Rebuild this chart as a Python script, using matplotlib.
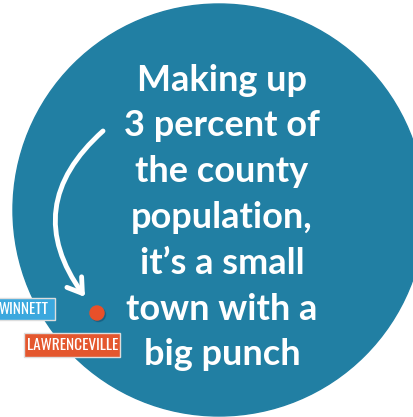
import matplotlib
matplotlib.use("Agg")
import matplotlib.pyplot as plt
from matplotlib.patches import Circle, FancyArrowPatch, Rectangle
from matplotlib import font_manager

text_lines = ["Making up", "3 percent of", "the county", "population,",
              "it\u2019s a small", "town with a", "big punch"]
labels = ["WINNETT", "LAWRENCEVILLE"]
label_colors = ["#3ba8de", "#e4572e"]

W, H = 414, 417
fig = plt.figure(figsize=(W / 100, H / 100), dpi=100)
ax = fig.add_axes([0, 0, 1, 1])
ax.set_xlim(0, W)
ax.set_ylim(H, 0)
ax.axis("off")

ax.add_patch(Circle((219, 210), 206, color="#217fa3", zorder=1))

fl = font_manager.fontManager.ttflist
def has_bold(name):
    return any(f.name == name and f.weight in (600, 700, "bold", "semibold") for f in fl)
main_font = [f for f in ["Source Sans Pro", "Source Sans 3", "Lato"] if has_bold(f)] + ["DejaVu Sans"]
names = {f.name for f in fl}
narrow_font = [f for f in ["Oswald", "Roboto Condensed", "Barlow Condensed", "Asap Condensed",
                           "Archivo Narrow"] if f in names] + ["DejaVu Sans"]

y0, dy = 80, 45.8
for i, line in enumerate(text_lines):
    ax.text(222, y0 + i * dy, line, ha="center", va="center", color="white",
            fontsize=26, fontweight="bold", family=main_font, zorder=5)

# arrow
arr = FancyArrowPatch((103, 131), (85, 297), connectionstyle="arc3,rad=0.45",
                      arrowstyle="->,head_length=10,head_width=6.5", color="white",
                      lw=3.5, zorder=4, shrinkA=0, shrinkB=0)
ax.add_patch(arr)

# dot with shadow
ax.add_patch(Circle((98.5, 314.5), 7, color="#16587a", alpha=0.6, zorder=4))
ax.add_patch(Circle((97, 313), 7, color="#e8502a", zorder=5))

# labels
boxes = [(-2, 298, 57, 22), (24, 333, 96, 24)]
text_pos = [(48, "right"), (73, "center")]
for (x, y, w, h), (tx, ha), lab, c in zip(boxes, text_pos, labels, label_colors):
    ax.add_patch(Rectangle((x, y), w, h, facecolor=c, edgecolor="#dddddd", lw=1, zorder=6))
    ax.text(tx, y + h / 2 + 0.5, lab, ha=ha, va="center", color="white",
            fontsize=11, fontweight="medium", family=narrow_font, zorder=7)

fig.savefig("out.png", dpi=100, facecolor="white")
